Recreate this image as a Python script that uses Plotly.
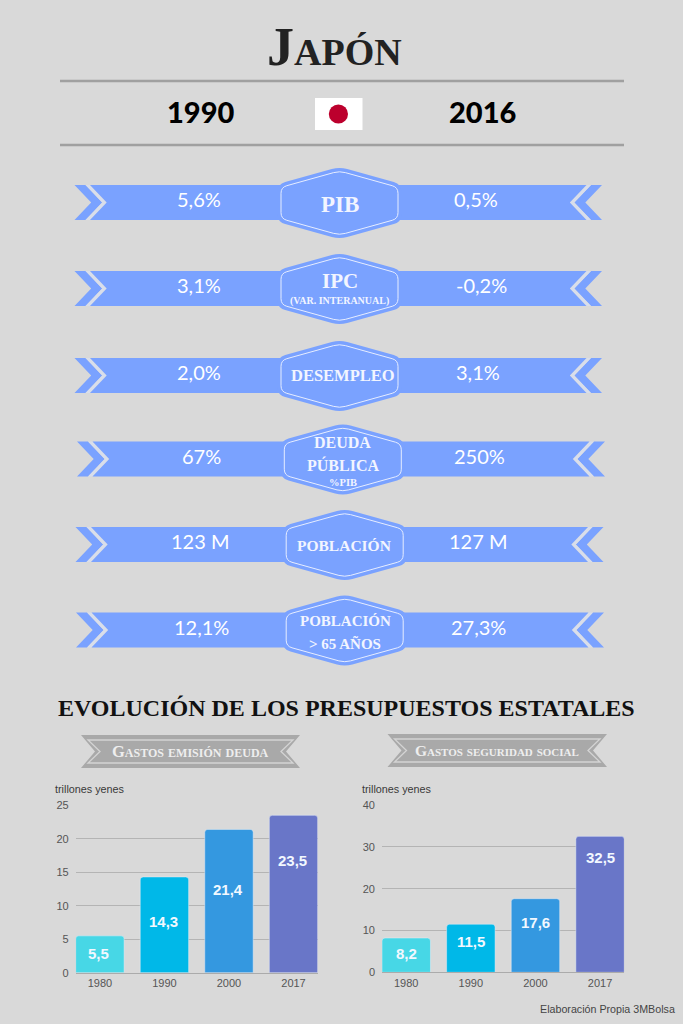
import plotly.graph_objects as go

anios = ["1980", "1990", "2000", "2017"]
gastos_deuda = [5.5, 14.3, 21.4, 23.5]
gastos_social = [8.2, 11.5, 17.6, 32.5]
etiquetas_deuda = ["5,5", "14,3", "21,4", "23,5"]
etiquetas_social = ["8,2", "11,5", "17,6", "32,5"]
# altura de las etiquetas dentro de cada barra, en unidades del eje
altura_deuda = [2.9, 7.6, 12.4, 16.7]
altura_social = [4.5, 7.3, 11.8, 27.4]
colores_barras = ["#47d7e6", "#00b8e8", "#3498e0", "#6976c8"]

ticks_deuda = [0, 5, 10, 15, 20, 25]
ticks_social = [0, 10, 20, 30, 40]

valores_1990 = ["5,6%", "3,1%", "2,0%", "67%", "123 M", "12,1%"]
valores_2016 = ["0,5%", "-0,2%", "3,1%", "250%", "127 M", "27,3%"]

# geometria de las cintas, en pixeles de la pagina
centro_y = [202.5, 288.5, 375.5, 459, 544.5, 630]
centro_x = [339.5, 339.5, 339.5, 342.8, 344.7, 344.7]
borde_izq = [74.5, 74.5, 74.5, 77, 75.5, 76]
borde_der = [602, 602, 602, 605, 603.5, 604]
x_1990 = [199, 199, 199, 201, 200, 201]
x_2016 = [476, 481, 478, 479, 478, 478]

AZUL = "#7aa2ff"
FONDO = "#d9d9d9"
CLARO = "#d9deea"
SERIF = "Liberation Serif"
SANS = "Liberation Sans"
GEO = "Lato"

shapes = []
notas = []


def trazado(puntos):
    return "M " + " L ".join(f"{x:.1f} {y:.1f}" for x, y in puntos) + " Z"


def redondeado(puntos, r):
    # poligono con las esquinas suavizadas
    partes = []
    n = len(puntos)
    for i in range(n):
        x, y = puntos[i]
        xa, ya = puntos[i - 1]
        xb, yb = puntos[(i + 1) % n]
        da = ((xa - x) ** 2 + (ya - y) ** 2) ** 0.5
        db = ((xb - x) ** 2 + (yb - y) ** 2) ** 0.5
        p1 = (x + (xa - x) * r / da, y + (ya - y) * r / da)
        p2 = (x + (xb - x) * r / db, y + (yb - y) * r / db)
        partes.append(("M" if i == 0 else "L") + f" {p1[0]:.1f} {p1[1]:.1f} Q {x:.1f} {y:.1f} {p2[0]:.1f} {p2[1]:.1f}")
    return " ".join(partes) + " Z"


def forma(path, fill=None, line=None, width=0):
    shapes.append(dict(type="path", path=path, xref="x3", yref="y3", layer="below",
                       fillcolor=fill if fill else "rgba(0,0,0,0)",
                       line=dict(color=line if line else "rgba(0,0,0,0)", width=width)))


def texto(x, y, s, size, color, family, bold=False, anchor="center", variant=None, weight=None):
    f = dict(size=size, color=color, family=family)
    if bold:
        f["weight"] = "bold"
    if weight:
        f["weight"] = weight
    if variant:
        f["variant"] = variant
    notas.append(dict(x=x, y=y, xref="x3", yref="y3", text=s, showarrow=False, xanchor=anchor,
                      yanchor="middle", font=f))


# cabecera
for yy in [81, 145]:
    shapes.append(dict(type="line", x0=60, x1=624, y0=yy, y1=yy, xref="x3", yref="y3", layer="below",
                       line=dict(color="#a0a0a0", width=2.5)))
shapes.append(dict(type="rect", x0=315, x1=362.5, y0=98, y1=130, xref="x3", yref="y3", layer="below",
                   fillcolor="white", line=dict(width=0)))
shapes.append(dict(type="circle", x0=328.8, x1=348, y0=104.4, y1=123.6, xref="x3", yref="y3", layer="below",
                   fillcolor="#bc002d", line=dict(width=0)))
texto(334, 47, "Japón", 54, "#222222", SERIF, bold=True, variant="small-caps")
texto(200, 111, "1990", 29, "#000000", GEO, weight=900)
texto(482, 111, "2016", 29, "#000000", GEO, weight=900)

# cintas
for i in range(len(centro_y)):
    cy, cx, x0, x1 = centro_y[i], centro_x[i], borde_izq[i], borde_der[i]
    t, b = cy - 17.5, cy + 17.5
    for lado, xe in ((1, x0), (-1, x1)):
        chevron = [(xe, t), (xe + lado * 11, t), (xe + lado * 27.7, cy), (xe + lado * 11, b), (xe, b),
                   (xe + lado * 16.7, cy)]
        hueco = [(xe + lado * 11, t), (xe + lado * 15.5, t), (xe + lado * 32.2, cy), (xe + lado * 15.5, b),
                 (xe + lado * 11, b), (xe + lado * 27.7, cy)]
        forma(trazado(chevron), fill=AZUL)
        forma(trazado(hueco), fill=CLARO)
    cinta = [(x0 + 15.5, t), (x1 - 15.5, t), (x1 - 32.2, cy), (x1 - 15.5, b), (x0 + 15.5, b), (x0 + 32.2, cy)]
    forma(trazado(cinta), fill=AZUL)
    for hw, hh, hs, ff, ll, rr in ((62, 36, 19, AZUL, None, 8), (58.5, 32, 15.7, None, "#e6edff", 6)):
        hexa = [(cx - hw, cy + 0.5 - hs), (cx, cy + 0.5 - hh), (cx + hw, cy + 0.5 - hs),
                (cx + hw, cy + 0.5 + hs), (cx, cy + 0.5 + hh), (cx - hw, cy + 0.5 + hs)]
        forma(redondeado(hexa, rr), fill=ff, line=ll, width=1 if ll else 0)
    texto(x_1990[i], cy - 3.5, valores_1990[i], 20, "#ffffff", GEO, weight=400)
    texto(x_2016[i], cy - 3.5, valores_2016[i], 20, "#ffffff", GEO, weight=400)

B = "#f2f5ff"
texto(339.5, 204, "PIB", 23, B, SERIF, bold=True)
texto(339.5, 281, "IPC", 21, B, SERIF, bold=True)
texto(339.5, 301, "(VAR. INTERANUAL)", 10, B, SERIF, bold=True)
texto(343, 375, "DESEMPLEO", 16.5, B, SERIF, bold=True)
texto(342.8, 442, "DEUDA", 16, B, SERIF, bold=True)
texto(342.8, 465, "PÚBLICA", 16, B, SERIF, bold=True)
texto(342.8, 482, "%PIB", 10.5, B, SERIF, bold=True)
texto(344, 545, "POBLACIÓN", 15.5, B, SERIF, bold=True)
texto(345, 621, "POBLACIÓN", 15, B, SERIF, bold=True)
texto(345, 643, "> 65 AÑOS", 15, B, SERIF, bold=True)

texto(346, 708, "EVOLUCIÓN DE LOS PRESUPUESTOS ESTATALES", 24, "#111111", SERIF, bold=True)

# banderolas grises
for x0, x1, t, b, rotulo, tam in ((81, 300, 735, 768, "Gastos emisión deuda", 16.5),
                                  (387.5, 607, 734, 767, "Gastos seguridad social", 15.5)):
    ym = (t + b) / 2
    forma(trazado([(x0, t), (x1, t), (x1 - 14, ym), (x1, b), (x0, b), (x0 + 14, ym)]), fill="#a9a9a9")
    forma(trazado([(x0 + 7, t + 5), (x1 - 7, t + 5), (x1 - 19, ym), (x1 - 7, b - 5), (x0 + 7, b - 5), (x0 + 19, ym)]),
          line="#d4d4d4", width=1.3)
    texto((x0 + x1) / 2, ym - 0.5, rotulo, tam, "#eeeeee", SERIF, bold=True, variant="small-caps")

texto(53, 789, "trillones yenes", 10.8, "#3a3a3a", SANS, anchor="left")
texto(359.5, 789, "trillones yenes", 10.8, "#3a3a3a", SANS, anchor="left")
texto(676.5, 1009, "Elaboración Propia 3MBolsa", 10.7, "#444444", SANS, anchor="right")

fig = go.Figure()
fig.add_trace(go.Bar(x=anios, y=gastos_deuda, marker_color=colores_barras, xaxis="x", yaxis="y",
                     hoverinfo="skip", showlegend=False))
fig.add_trace(go.Bar(x=anios, y=gastos_social, marker_color=colores_barras, xaxis="x2", yaxis="y2",
                     hoverinfo="skip", showlegend=False))

# en un eje de categorias la anotacion va por numero de orden
for i in range(len(anios)):
    notas.append(dict(x=i, y=altura_deuda[i], xref="x", yref="y", text=etiquetas_deuda[i], showarrow=False,
                      xshift=-1, font=dict(size=15, color="#f2f8ff", family=SANS, weight="bold")))
    notas.append(dict(x=i, y=altura_social[i], xref="x2", yref="y2", text=etiquetas_social[i], showarrow=False,
                      font=dict(size=15, color="#f2f8ff", family=SANS, weight="bold")))

eje_x = dict(type="category", range=[-0.375, 3.375], showgrid=False, showline=True, linecolor="#ababab", linewidth=1.2,
             tickfont=dict(size=11, color="#555555", family=SANS), ticks="", ticklabelstandoff=0)
eje_y = dict(showgrid=True, gridcolor="#b4b4b4", gridwidth=1.3, zeroline=False, showline=False,
             tickfont=dict(size=11, color="#555555", family=SANS), ticks="", ticklabelstandoff=6)

fig.update_layout(
    width=683, height=1024, margin=dict(l=0, r=0, t=0, b=0, pad=0, autoexpand=False),
    paper_bgcolor=FONDO, plot_bgcolor="rgba(0,0,0,0)",
    bargap=0.25, barcornerradius=3, showlegend=False,
    xaxis=dict(eje_x, domain=[75.7 / 683, 317.7 / 683], anchor="y"),
    yaxis=dict(eje_y, domain=[1 - 972.7 / 1024, 1 - 805.3 / 1024], anchor="x", range=[0, 25], tickvals=ticks_deuda),
    xaxis2=dict(eje_x, domain=[382 / 683, 624.3 / 683], anchor="y2"),
    yaxis2=dict(eje_y, domain=[1 - 972.3 / 1024, 1 - 805 / 1024], anchor="x2", range=[0, 40], tickvals=ticks_social),
    # eje oculto a toda la pagina para dibujar en pixeles
    xaxis3=dict(domain=[0, 1], range=[0, 683], visible=False, anchor="y3"),
    yaxis3=dict(domain=[0, 1], range=[1024, 0], visible=False, anchor="x3"),
    shapes=shapes, annotations=notas,
)

fig.write_html("out.html", config={"displayModeBar": False}, post_script="document.body.style.margin='0';")
